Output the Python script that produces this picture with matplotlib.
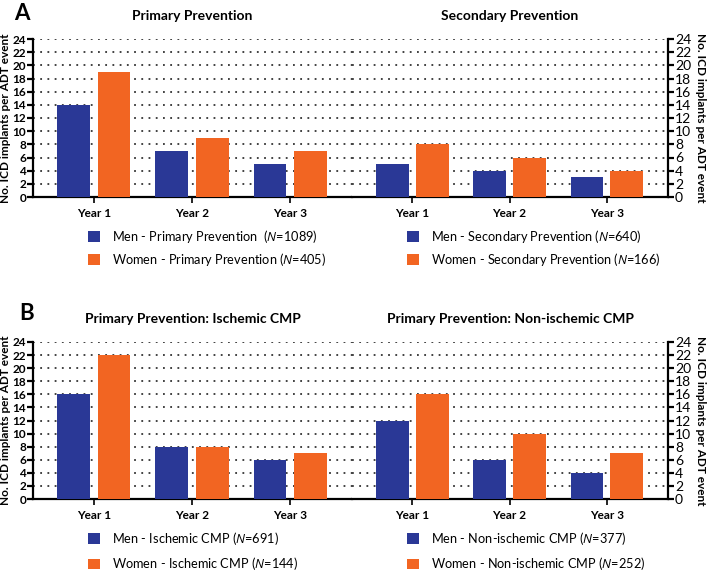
import matplotlib
matplotlib.use("Agg")
import matplotlib.pyplot as plt
import numpy as np

plt.rcParams['font.family'] = ['Lato', 'DejaVu Sans']
plt.rcParams['mathtext.fontset'] = 'custom'
plt.rcParams['mathtext.it'] = 'Open Sans:italic'
plt.rcParams['mathtext.rm'] = 'Lato'

years = ['Year 1', 'Year 2', 'Year 3']

# panel A
men_primary = [14, 7, 5]
women_primary = [19, 9, 7]
men_secondary = [5, 4, 3]
women_secondary = [8, 6, 4]

# panel B
men_ischemic = [16, 8, 6]
women_ischemic = [22, 8, 7]
men_nonischemic = [12, 6, 4]
women_nonischemic = [16, 10, 7]

titles = ['Primary Prevention', 'Secondary Prevention',
          'Primary Prevention: Ischemic CMP', 'Primary Prevention: Non-ischemic CMP']
men_labels = ['Men - Primary Prevention  ($\\it{N}$=1089)',
              'Men - Secondary Prevention ($\\it{N}$=640)',
              'Men - Ischemic CMP ($\\it{N}$=691)',
              'Men - Non-ischemic CMP ($\\it{N}$=377)']
women_labels = ['Women - Primary Prevention ($\\it{N}$=405)',
                'Women - Secondary Prevention ($\\it{N}$=166)',
                'Women - Ischemic CMP ($\\it{N}$=144)',
                'Women - Non-ischemic CMP ($\\it{N}$=252)']

blue = '#2a3896'
orange = '#f26522'
ylabel = 'No. ICD implants per ADT event'

W, H = 709, 571
fig = plt.figure(figsize=(W / 100, H / 100), dpi=100)


def fx(px):
    return px / W


def fy(px):
    return 1 - px / H


def draw_panel(rect, men, women, title, lab_m, lab_w, side, leg_x, leg_y, leg_sp):
    ax = fig.add_axes(rect)
    x = np.arange(len(years))
    w = 0.335
    b1 = ax.bar(x - 0.205, men, w, color=blue, label=lab_m, zorder=3)
    b2 = ax.bar(x + 0.205, women, w, color=orange, label=lab_w, zorder=3)
    ax.set_xlim(-0.62, 2.63)
    ax.set_ylim(0, 24)
    ax.set_yticks(np.arange(0, 25, 2))
    ax.set_xticks(x)
    ax.set_xticklabels(years, fontsize=8.5, fontweight='bold')
    for t in ax.get_yticklabels():
        t.set_fontweight('bold')
        t.set_fontsize(8.5)
    for y in range(2, 25, 2):
        ax.axhline(y, color='#333333', lw=1.3, ls=(0, (1, 3)), zorder=1)
    ax.spines['top'].set_visible(False)
    ax.spines['bottom'].set_linewidth(1.6)
    ax.tick_params(axis='x', length=4, width=1.2, pad=4)
    ax.tick_params(axis='y', length=4, width=1.6, pad=1)
    if side == 'left':
        ax.spines['right'].set_visible(False)
        ax.spines['left'].set_linewidth(1.6)
        ax.set_ylabel(ylabel, fontsize=8.5, fontweight='bold', labelpad=1)
    else:
        ax.spines['left'].set_visible(False)
        ax.spines['right'].set_linewidth(1.6)
        ax.yaxis.tick_right()
        ax.yaxis.set_label_position('right')
        ax.set_ylabel(ylabel, fontsize=8.5, fontweight='bold', rotation=270,
                      labelpad=11)
    ax.set_title(title, fontsize=10, fontweight='bold', pad=14)
    fig.legend(handles=[b1, b2], labels=[lab_m, lab_w], loc='upper left',
               bbox_to_anchor=(fx(leg_x), fy(leg_y)), frameon=False,
               fontsize=9.2, handlelength=0.92, handleheight=0.92,
               handletextpad=0.95, labelspacing=leg_sp, borderaxespad=0,
               borderpad=0)
    return ax


# panel A
draw_panel([fx(33), fy(197), fx(352) - fx(33), fy(39) - fy(197)],
           men_primary, women_primary, titles[0], men_labels[0], women_labels[0],
           'left', 88, 228, 0.45)
draw_panel([fx(352), fy(197), fx(668) - fx(352), fy(39) - fy(197)],
           men_secondary, women_secondary, titles[1], men_labels[1], women_labels[1],
           'right', 407, 228, 0.45)
# panel B
draw_panel([fx(33), fy(499), fx(352) - fx(33), fy(342) - fy(499)],
           men_ischemic, women_ischemic, titles[2], men_labels[2], women_labels[2],
           'left', 88, 530, 0.65)
draw_panel([fx(352), fy(499), fx(668) - fx(352), fy(342) - fy(499)],
           men_nonischemic, women_nonischemic, titles[3], men_labels[3], women_labels[3],
           'right', 407, 530, 0.65)

fig.text(fx(14), fy(13), 'A', fontsize=16, fontweight='bold', va='center')
fig.text(fx(19), fy(313), 'B', fontsize=16, fontweight='bold', va='center')

fig.savefig('out.png', dpi=100)
